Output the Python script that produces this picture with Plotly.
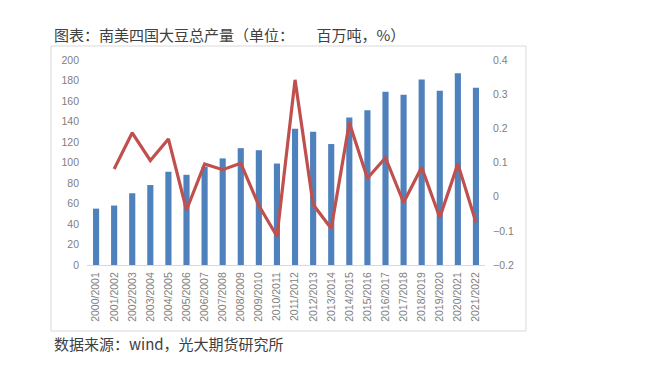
import plotly.graph_objects as go

seasons = ["2000/2001","2001/2002","2002/2003","2003/2004","2004/2005","2005/2006",
           "2006/2007","2007/2008","2008/2009","2009/2010","2010/2011","2011/2012",
           "2012/2013","2013/2014","2014/2015","2015/2016","2016/2017","2017/2018",
           "2018/2019","2019/2020","2020/2021","2021/2022"]
production = [55, 58, 70, 78, 91, 88, 96, 104, 114, 112, 99, 133,
              130, 118, 144, 151, 169, 166, 181, 170, 187, 173]
growth = [None, 0.081, 0.187, 0.106, 0.169, -0.039, 0.096, 0.079, 0.098, -0.026,
          -0.116, 0.342, -0.023, -0.093, 0.216, 0.054, 0.114, -0.017, 0.086,
          -0.061, 0.096, -0.075]
left_ticks = [0, 20, 40, 60, 80, 100, 120, 140, 160, 180, 200]
right_ticks = [-0.2, -0.1, 0, 0.1, 0.2, 0.3, 0.4]
right_labels = ["\u22120.2", "\u22120.1", "0", "0.1", "0.2", "0.3", "0.4"]

# page has an 8px body margin; figure sized to fit the 665x378 window
OFF = 8
W, H = 665 - 2 * OFF, 378 - 2 * OFF


def px(x):
    return (x - OFF) / W


def py(y):
    return (H - (y - OFF)) / H


fig = go.Figure()
fig.add_trace(go.Bar(x=seasons, y=production, marker_color="#4F81BD",
                     marker_line_width=0, yaxis="y", name="产量"))
fig.add_trace(go.Scatter(x=seasons, y=growth, mode="lines",
                         line=dict(color="#C0504D", width=3.2),
                         yaxis="y2", name="增速", connectgaps=False))

tickfont = dict(family="Liberation Sans, Arial, sans-serif", size=10.5, color="#808080")
fig.update_layout(
    width=W, height=H,
    margin=dict(l=0, r=0, t=0, b=0),
    paper_bgcolor="white", plot_bgcolor="white",
    showlegend=False, bargap=0.66,
    xaxis=dict(domain=[px(87), px(485)], type="category", range=[-0.5, 21.5],
               tickangle=-90, tickfont=tickfont, ticklabelstandoff=2,
               showline=True, linecolor="#d9d9d9", linewidth=1,
               showgrid=False, ticks="", anchor="y", automargin=False),
    yaxis=dict(domain=[py(265), py(60)], range=[0, 200], tickvals=left_ticks,
               tickfont=tickfont, showgrid=False, zeroline=False, showline=False,
               ticks="", automargin=False, ticklabelstandoff=7),
    yaxis2=dict(overlaying="y", side="right", range=[-0.2, 0.4], tickvals=right_ticks,
                ticktext=right_labels,
                tickfont=tickfont, showgrid=False, zeroline=False, showline=False,
                ticks="", anchor="x", automargin=False, ticklabelstandoff=7),
    shapes=[dict(type="rect", xref="paper", yref="paper",
                 x0=px(51), x1=px(526), y0=py(331), y1=py(46),
                 line=dict(color="#d9d9d9", width=1), fillcolor="rgba(0,0,0,0)",
                 layer="below")],
    annotations=[
        dict(text="图表：南美四国大豆总产量（单位：\u3000\u3000百万吨，%）",
             xref="paper", yref="paper",
             x=px(52), y=py(35), xanchor="left", yanchor="middle", showarrow=False,
             font=dict(family="Noto Sans CJK SC", size=15, color="#404040")),
        dict(text="数据来源：wind，光大期货研究所", xref="paper", yref="paper",
             x=px(52), y=py(343), xanchor="left", yanchor="middle", showarrow=False,
             font=dict(family="Noto Sans CJK SC", size=15, color="#404040")),
    ],
)
fig.write_html("out.html")
